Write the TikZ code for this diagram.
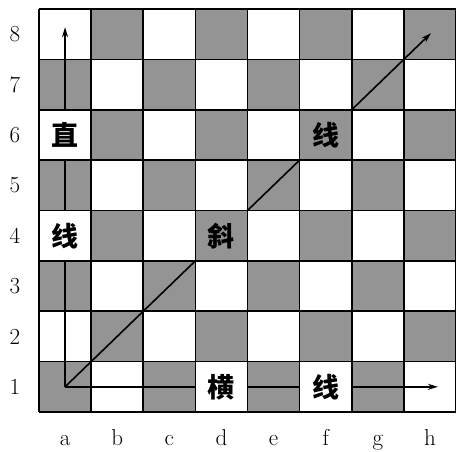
\documentclass[tikz,border=0pt]{standalone}
\usepackage{fontspec}
\newfontfamily\cjk{Noto Sans CJK SC}
\usetikzlibrary{arrows.meta}
\begin{document}
\begin{tikzpicture}[x=1pt,y=1pt,
  darkcell/.style={fill=black!42},
  gridline/.style={line width=1.6pt},
  arr/.style={line width=1.6pt,-{Stealth[length=10pt,width=6pt]}},
  cjklabel/.style={font=\cjk\bfseries\fontsize{27}{27}\selectfont, minimum width=52pt, minimum height=50pt, inner sep=0pt},
  lbl/.style={font=\fontsize{23}{23}\selectfont, inner sep=0pt}]
\useasboundingbox (0,0) rectangle (456,451);
\def\cw{52.125}\def\ch{50.375}
% squares
\foreach \i in {1,...,8} {
  \foreach \j in {1,...,8} {
    \pgfmathtruncatemacro{\parity}{mod(\i+\j,2)}
    \ifnum\parity=0
      \fill[darkcell] ({39+(\i-1)*\cw},{39+(\j-1)*\ch}) rectangle ++(\cw,\ch);
    \fi
  }
}
% cell centres
\foreach \c [count=\i] in {a,b,c,d,e,f,g,h} {
  \foreach \j in {1,...,8} {
    \coordinate (\c\j) at ({39+(\i-0.5)*\cw},{39+(\j-0.5)*\ch});
  }
}
\coordinate (vtip) at ([yshift=7pt]a8);
\coordinate (htip) at ([xshift=8pt]h1);
\coordinate (dtip) at ([xshift=1pt,yshift=1pt]h8);
% arrows
\draw[arr] (a1) -- (vtip);
\draw[arr] (a1) -- (htip);
\draw[arr] (a1) -- (dtip);
% text cells
\node[cjklabel, fill=white] (zhi) at (a6) {直};
\node[cjklabel, fill=white] (xianA) at (a4) {线};
\node[cjklabel, darkcell] (xie) at (d4) {斜};
\node[cjklabel, darkcell] (xianB) at (f6) {线};
\node[cjklabel, fill=white] (heng) at (d1) {横};
\node[cjklabel, fill=white] (xianC) at (f1) {线};
% grid
\foreach \i in {0,...,8} \draw[gridline] ({39+\i*\cw},39) -- ({39+\i*\cw},442);
\foreach \j in {0,...,8} \draw[gridline] (39,{39+\j*\ch}) -- (456,{39+\j*\ch});
% labels
\foreach \c [count=\i] in {a,b,c,d,e,f,g,h} {
  \node[lbl, anchor=base] (col\c) at ({39+(\i-0.5)*\cw},5.5) {\c\vphantom{g}};
}
\foreach \j in {1,...,8} {
  \node[lbl] (row\j) at (15,{39+(\j-0.5)*\ch}) {\j};
}
\end{tikzpicture}
\end{document}
